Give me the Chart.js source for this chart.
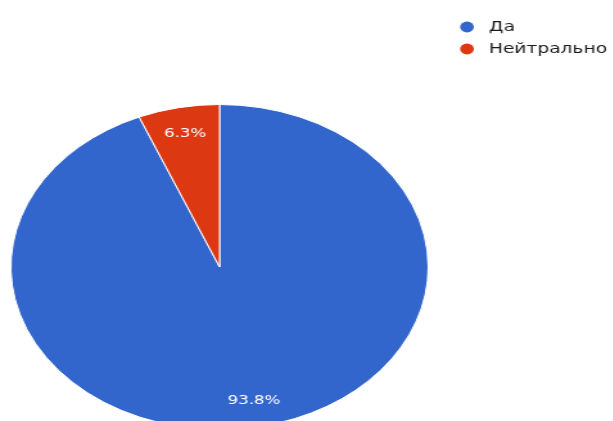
<!DOCTYPE html>
<html lang="ru">
<head>
<meta charset="utf-8">
<title>Ответы</title>
<script src="https://cdn.jsdelivr.net/npm/chart.js@4.4.0/dist/chart.umd.min.js"></script>
<style>
  html, body { margin: 0; padding: 0; background: #fff; overflow: hidden; }
  #frame { width: 613px; height: 421px; overflow: hidden; position: relative; }
  /* chart is drawn narrow and widened horizontally */
  #stretch { position: absolute; left: 0; top: 0; width: 490px; height: 440px;
             transform-origin: 0 0; transform: scaleX(1.284); }
</style>
</head>
<body>
<div id="frame">
  <div id="stretch"><canvas id="answersChart" width="490" height="440"></canvas></div>
</div>
<script>
// ── Data ──
const answerLabels = ['Да', 'Нейтрально'];
const answerShares = [93.8, 6.3];
const sliceColors  = ['#3366cc', '#dc3912'];

// Percent labels inside each slice
const sliceLabels = {
  id: 'sliceLabels',
  afterDatasetsDraw(chart) {
    const { ctx } = chart;
    const meta = chart.getDatasetMeta(0);
    ctx.save();
    ctx.font = '13px "DejaVu Sans", sans-serif';
    ctx.fillStyle = '#ffffff';
    ctx.textAlign = 'center';
    ctx.textBaseline = 'middle';
    meta.data.forEach((arc, i) => {
      const { x, y, startAngle, endAngle, outerRadius } =
        arc.getProps(['x', 'y', 'startAngle', 'endAngle', 'outerRadius'], true);
      const mid = (startAngle + endAngle) / 2;
      const r = outerRadius * 0.84;
      ctx.fillText(answerShares[i].toFixed(1) + '%', x + Math.cos(mid) * r, y + Math.sin(mid) * r);
    });
    ctx.restore();
  }
};

// Legend in the top right corner, dots + names
const sideLegend = {
  id: 'sideLegend',
  afterDraw(chart) {
    const { ctx } = chart;
    const ds = chart.data.datasets[0];
    ctx.save();
    ctx.font = '14.5px "DejaVu Sans", sans-serif';
    ctx.textAlign = 'left';
    ctx.textBaseline = 'middle';
    chart.data.labels.forEach((label, i) => {
      const cy = 27 + i * 22;
      ctx.beginPath();
      ctx.arc(363.7, cy, 5.4, 0, Math.PI * 2);
      ctx.fillStyle = ds.backgroundColor[i];
      ctx.fill();
      ctx.fillStyle = '#1a1a1a';
      ctx.fillText(label, 380.8, cy);
    });
    ctx.restore();
  }
};

new Chart(document.getElementById('answersChart'), {
  type: 'pie',
  data: {
    labels: answerLabels,
    datasets: [{
      data: answerShares,
      backgroundColor: sliceColors,
      borderColor: '#ffffff',
      borderWidth: 1
    }]
  },
  options: {
    responsive: false,
    animation: false,
    devicePixelRatio: 1,
    layout: { padding: { top: 104, bottom: 10, left: 8, right: 156 } },
    plugins: {
      legend: { display: false },
      tooltip: { enabled: false }
    }
  },
  plugins: [sliceLabels, sideLegend]
});
</script>
</body>
</html>
